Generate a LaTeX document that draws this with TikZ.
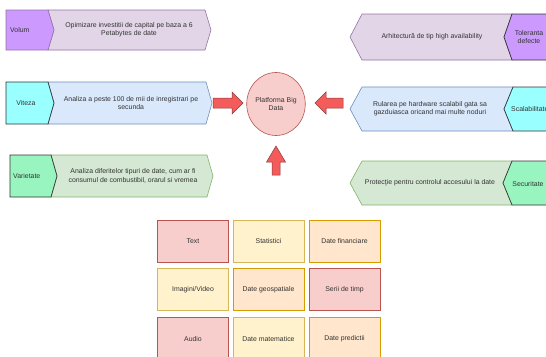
\documentclass[tikz,border=0pt]{standalone}
\usepackage{fontspec}
\usetikzlibrary{shapes.geometric}
\setmainfont{Liberation Sans}
\definecolor{txt}{HTML}{333333}
\definecolor{purpF}{HTML}{CC99FF}
\definecolor{purpL}{HTML}{E1D5E7}
\definecolor{purpD}{HTML}{9673A6}
\definecolor{cyanF}{HTML}{99FFFF}
\definecolor{blueL}{HTML}{DAE8FC}
\definecolor{blueD}{HTML}{6C8EBF}
\definecolor{mintF}{HTML}{99F5C0}
\definecolor{greenL}{HTML}{D5E8D4}
\definecolor{greenD}{HTML}{82B366}
\definecolor{pinkF}{HTML}{F8CECC}
\definecolor{pinkD}{HTML}{B85450}
\definecolor{yelF}{HTML}{FFF2CC}
\definecolor{yelD}{HTML}{D6B656}
\definecolor{orF}{HTML}{FFE6CC}
\definecolor{orD}{HTML}{D79B00}
\definecolor{arrF}{HTML}{F45B5B}
\definecolor{arrD}{HTML}{8B3A3A}
\tikzset{
  lbl/.style={font=\fontsize{6.9}{8.2}\selectfont, text=txt, align=center, inner sep=0pt},
  chev/.style={line width=0.6pt, line join=miter},
  tag/.style={line width=0.7pt, draw=txt},
  blockarr/.style={fill=arrF, draw=arrD, line width=0.5pt, line join=miter},
  cell/.style={minimum width=71pt, minimum height=42pt, line width=0.7pt, font=\fontsize{6.9}{8.2}\selectfont, text=txt, inner sep=0pt},
  pinkcell/.style={cell, fill=pinkF, draw=pinkD},
  yelcell/.style={cell, fill=yelF, draw=yelD},
  orcell/.style={cell, fill=orF, draw=orD},
}
\begin{document}
\begin{tikzpicture}[x=1pt,y=-1pt]
\useasboundingbox (0,0) rectangle (546,356);
\fill[white] (0,0) rectangle (546,356);

% ---- left row 1: Volum
\draw[chev, fill=purpL, draw=purpD] (48,10) -- (205,10) -- (211,30) -- (205,50) -- (48,50) -- (54,30) -- cycle;
\draw[chev, fill=purpF, draw=purpD] (6,10) -- (48,10) -- (54,30) -- (48,50) -- (6,50) -- cycle;
\node[lbl, anchor=west] (volum) at (10,30) {Volum};
\node[lbl] (volumtxt) at (129,30) {Opimizare investitii de capital pe baza a 6\\Petabytes de date};

% ---- left row 2: Viteza
\draw[chev, fill=blueL, draw=blueD] (48,82) -- (206,82) -- (212,103) -- (206,124) -- (48,124) -- (54,103) -- cycle;
\draw[tag, fill=cyanF] (54,103) -- (48,82) -- (6,82) -- (6,124) -- (48,124) -- cycle;
\node[lbl] (viteza) at (26,103) {Viteza};
\node[lbl] (vitezatxt) at (131,103) {Analiza a peste 100 de mii de inregistrari pe\\secunda};

% ---- left row 3: Varietate
\draw[chev, fill=greenL, draw=greenD] (51,155) -- (207,155) -- (213,176) -- (207,197) -- (51,197) -- (57,176) -- cycle;
\draw[tag, fill=mintF] (57,176) -- (51,155) -- (10,155) -- (10,197) -- (51,197) -- cycle;
\node[lbl, anchor=west] (varietate) at (13,176) {Varietate};
\node[lbl] (varietatetxt) at (133,176) {Analiza diferitelor tipuri de date, cum ar fi\\consumul de combustibil, orarul si vremea};

% ---- right row 1: Toleranta defecte
\draw[chev, fill=purpL, draw=purpD] (350,37) -- (362,14) -- (512,14) -- (504,37) -- (512,60) -- (362,60) -- cycle;
\draw[tag, fill=purpF] (504,37) -- (512,14) -- (552,14) -- (552,60) -- (512,60) -- cycle;
\node[lbl] (toleranta) at (529,37) {Toleranta\\defecte};
\node[lbl] (tolerantatxt) at (432,37) {Arhitectură de tip high availability};

% ---- right row 2: Scalabilitate
\draw[chev, fill=blueL, draw=blueD] (350,109) -- (362,87) -- (513,87) -- (504,109) -- (513,131) -- (362,131) -- cycle;
\draw[tag, fill=cyanF] (504,109) -- (513,87) -- (552,87) -- (552,131) -- (513,131) -- cycle;
\node[lbl, anchor=west] (scalab) at (511,109) {Scalabilitate};
\node[lbl] (scalabtxt) at (430,109) {Rularea pe hardware scalabil gata sa\\gazduiasca oricand mai multe noduri};

% ---- right row 3: Securitate
\draw[chev, fill=greenL, draw=greenD] (350,183) -- (362,161) -- (512,161) -- (503,183) -- (512,205) -- (362,205) -- cycle;
\draw[tag, fill=mintF] (503,183) -- (512,161) -- (552,161) -- (552,205) -- (512,205) -- cycle;
\node[lbl] (securitate) at (528,184) {Securitate};
\node[lbl] (securitatetxt) at (430,183) {Protecţie pentru controlul accesului la date};

% ---- center
\node[draw=pinkD, fill=pinkF, line width=0.6pt, ellipse, minimum width=52pt, minimum height=63pt, inner sep=0pt, lbl] (platf) at (276,104) {Platforma Big\\Data};

% ---- block arrows
\draw[blockarr] (213,98) -- (232,98) -- (232,92) -- (243,103) -- (232,114) -- (232,108) -- (213,108) -- cycle;
\draw[blockarr] (343,98) -- (326,98) -- (326,92) -- (315,103) -- (326,114) -- (326,108) -- (343,108) -- cycle;
\draw[blockarr] (272,175) -- (272,162) -- (266.5,162) -- (276,146) -- (285.5,162) -- (280,162) -- (280,175) -- cycle;

% ---- grid
\node[pinkcell] (c11) at (193,241) {Text};
\node[yelcell]  (c12) at (268.5,241) {Statistici};
\node[orcell]   (c13) at (344.5,241) {Date financiare};
\node[yelcell]  (c21) at (193,289.5) {Imagini/Video};
\node[orcell]   (c22) at (268.5,289.5) {Date geospatiale};
\node[pinkcell] (c23) at (344.5,289.5) {Serii de timp};
\node[pinkcell, minimum height=44pt] (c31) at (193,339) {Audio};
\node[yelcell, minimum height=44pt]  (c32) at (268.5,339) {Date matematice};
\node[orcell, minimum height=44pt]   (c33) at (344.5,339) {Date predictii};
\end{tikzpicture}
\end{document}
